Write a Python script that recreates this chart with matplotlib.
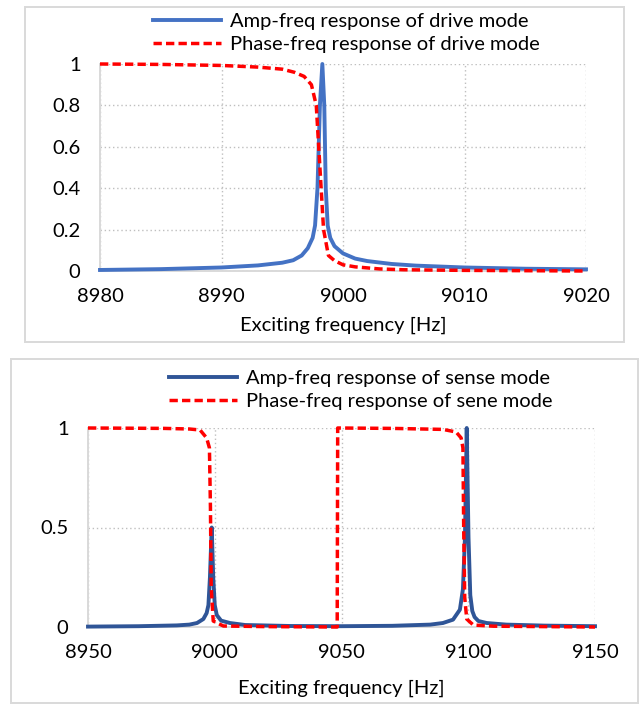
import matplotlib

matplotlib.use("Agg")

import matplotlib.pyplot as plt
from matplotlib.patches import Rectangle

plt.rcParams["font.family"] = ["Lato", "DejaVu Sans"]

# drive mode (top panel)
drive_freq_amp = [8980, 8985, 8990, 8993, 8995, 8995.9, 8996.6, 8997.1, 8997.5, 8997.7,
                  8997.9, 8998.1, 8998.3, 8998.46, 8998.58, 8998.74, 8998.95, 8999.3,
                  9000, 9001, 9002, 9004, 9006, 9010, 9015, 9020]
drive_amp = [0.005, 0.009, 0.017, 0.027, 0.04, 0.052, 0.075, 0.11, 0.16, 0.22,
             0.4, 0.8, 1.0, 0.8, 0.4, 0.22, 0.16, 0.12,
             0.085, 0.06, 0.048, 0.034, 0.026, 0.017, 0.011, 0.008]
drive_freq_phase = [8980, 8985, 8990, 8993, 8995, 8996, 8996.8, 8997.4, 8997.8, 8998.0,
                    8998.2, 8998.4, 8998.8, 8999.3, 9000, 9001, 9003, 9005, 9010, 9020]
drive_phase = [1.0, 0.998, 0.993, 0.985, 0.975, 0.96, 0.94, 0.9, 0.8, 0.6,
               0.4, 0.2, 0.075, 0.05, 0.03, 0.02, 0.01, 0.006, 0.003, 0.0]

# sense mode (bottom panel)
sense_freq_amp = [8950, 8970, 8985, 8990, 8993, 8995.5, 8996.8, 8997.5, 8998.1, 8998.8,
                  8999.4, 9000.0, 9000.8, 9002.5, 9006, 9012, 9030, 9050, 9070, 9085,
                  9090, 9094, 9096.7, 9097.9, 9098.7, 9099.4, 9100.1, 9100.8, 9101.6,
                  9102.5, 9104, 9107.3, 9115, 9130, 9150]
sense_amp = [0.002, 0.004, 0.008, 0.012, 0.02, 0.04, 0.07, 0.11, 0.25, 0.5,
             0.25, 0.11, 0.06, 0.032, 0.02, 0.01, 0.005, 0.004, 0.006, 0.012,
             0.02, 0.037, 0.087, 0.19, 0.45, 1.0, 0.45, 0.16, 0.08,
             0.05, 0.03, 0.02, 0.012, 0.007, 0.004]
sense_freq_phase = [8950, 8980, 8990, 8994.2, 8996.8, 8997.9, 8998.3, 8998.6, 8999.4,
                    9003.4, 9020, 9048.3, 9048.5, 9070, 9090, 9095.2, 9097.2, 9097.9,
                    9098.2, 9098.6, 9099.4, 9102, 9110, 9150]
sense_phase = [1.0, 0.998, 0.995, 0.99, 0.95, 0.9, 0.6, 0.2, 0.03,
               0.005, 0.002, 0.0, 1.0, 0.998, 0.993, 0.98, 0.95, 0.9,
               0.5, 0.15, 0.04, 0.01, 0.004, 0.0]

W, H = 643, 704
GRID = "#BFBFBF"
BORDER = "#D9D9D9"
RED = "#FF0000"
DASH = (0, (2.4, 1.2))
FS = 14.5


def px_box(x0, y0, x1, y1):
    return [x0 / W, 1 - y1 / H, (x1 - x0) / W, (y1 - y0) / H]


def style_axes(ax, xlim, xticks, yticks, yticklabels, label_y):
    ax.set_xlim(*xlim)
    ax.set_ylim(0, 1)
    ax.set_xticks(xticks)
    ax.set_yticks(yticks, labels=yticklabels)
    ax.tick_params(length=0, labelsize=FS, pad=12)
    ax.tick_params(axis="y", pad=14)
    for side in ("top", "right"):
        ax.spines[side].set_visible(False)
    for side in ("left", "bottom"):
        ax.spines[side].set_color(BORDER)
        ax.spines[side].set_linewidth(1.4)
    ax.grid(True, color=GRID, linestyle=(0, (1, 2)), linewidth=1.0)
    ax.set_axisbelow(True)
    ax.set_xlabel("Exciting frequency [Hz]", fontsize=FS)
    ax.xaxis.set_label_coords(0.5, label_y)
    ax.xaxis.label.set_va("center")


def add_legend(fig, handles, labels, x_px, y_px):
    fig.legend(handles, labels, loc="center left", bbox_to_anchor=(x_px / W, 1 - y_px / H),
               frameon=False, fontsize=FS, borderpad=0, borderaxespad=0, handlelength=3.4,
               handletextpad=0.4, labelspacing=0.3)


fig = plt.figure(figsize=(W / 100, H / 100), dpi=100)

for box in (px_box(25, 7, 624, 342), px_box(11, 359, 638, 703)):
    fig.add_artist(Rectangle((box[0], box[1]), box[2], box[3], transform=fig.transFigure,
                             fill=False, edgecolor=BORDER, linewidth=1.4))

# top: drive mode
ax1 = fig.add_axes(px_box(100, 64, 586, 271))
l1, = ax1.plot(drive_freq_amp, drive_amp, color="#4472C4", linewidth=2.8, clip_on=False,
               zorder=3)
l2, = ax1.plot(drive_freq_phase, drive_phase, color=RED, linewidth=2.5, linestyle=DASH,
               clip_on=False, zorder=4)
style_axes(ax1, (8980, 9020), [8980, 8990, 9000, 9010, 9020],
           [0, 0.2, 0.4, 0.6, 0.8, 1], ["0", "0.2", "0.4", "0.6", "0.8", "1"], -0.261)
add_legend(fig, [l1, l2], ["Amp-freq response of drive mode",
                           "Phase-freq response of drive mode"], 153, 33)

# bottom: sense mode
ax2 = fig.add_axes(px_box(88, 428, 595, 627))
l3, = ax2.plot(sense_freq_amp, sense_amp, color="#2F5597", linewidth=2.8, clip_on=False,
               zorder=3)
l4, = ax2.plot(sense_freq_phase, sense_phase, color=RED, linewidth=2.5, linestyle=DASH,
               clip_on=False, zorder=4)
style_axes(ax2, (8950, 9150), [8950, 9000, 9050, 9100, 9150],
           [0, 0.5, 1], ["0", "0.5", "1"], -0.307)
add_legend(fig, [l3, l4], ["Amp-freq response of sense mode",
                           "Phase-freq response of sene mode"], 169, 390)

fig.savefig("out.png", dpi=100)
plt.close(fig)
